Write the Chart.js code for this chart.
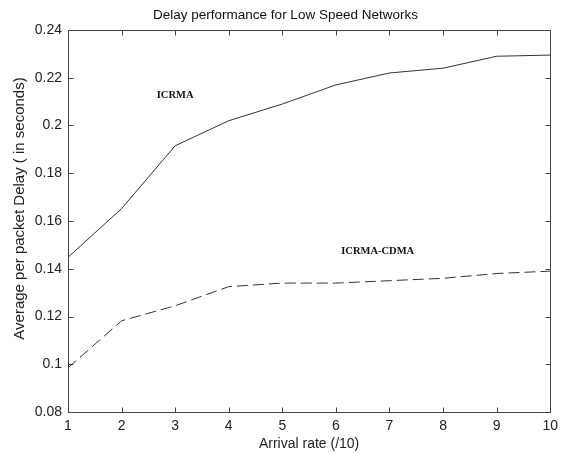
<!DOCTYPE html>
<html>
<head>
<meta charset="utf-8">
<script src="https://cdn.jsdelivr.net/npm/chart.js@4.4.1/dist/chart.umd.min.js"></script>
<style>
    html, body { margin: 0; padding: 0; background: #fff; }
    #wrap { width: 564px; height: 453px; }
</style>
</head>
<body>
<div id="wrap"><canvas id="delayChart" width="564" height="453"></canvas></div>
<script>
// Data
const arrivalRate = [1, 2, 3, 4, 5, 6, 7, 8, 9, 10];
const icrmaDelay = [0.1448, 0.1652, 0.1915, 0.202, 0.209, 0.217, 0.222, 0.224, 0.229, 0.2295];
const icrmaCdmaDelay = [0.0985, 0.1182, 0.1245, 0.1325, 0.134, 0.134, 0.135, 0.136, 0.138, 0.139];

const xTicks = [1, 2, 3, 4, 5, 6, 7, 8, 9, 10];
const yTicks = [0.08, 0.1, 0.12, 0.14, 0.16, 0.18, 0.2, 0.22, 0.24];

// In-plot text labels (data coordinates)
const seriesNames = ['ICRMA', 'ICRMA-CDMA'];
const nameX = [3.0, 6.78];
const nameY = [0.2128, 0.1474];

const axisColor = '#444';
const sansFont = '"Liberation Sans", Arial, sans-serif';

// Box around the plot with inward ticks, MATLAB style
const frameTicks = {
    id: 'frameTicks',
    afterDraw(chart) {
        const ctx = chart.ctx;
        const area = chart.chartArea;
        const xs = chart.scales.x;
        const ys = chart.scales.y;
        const len = 5;
        ctx.save();
        ctx.strokeStyle = axisColor;
        ctx.lineWidth = 1;
        const l = Math.round(area.left) + 0.5;
        const r = Math.round(area.right) + 0.5;
        const t = Math.round(area.top) + 0.5;
        const b = Math.round(area.bottom) + 0.5;
        ctx.strokeRect(l, t, r - l, b - t);
        ctx.beginPath();
        xTicks.forEach(v => {
            const px = Math.round(xs.getPixelForValue(v)) + 0.5;
            ctx.moveTo(px, b); ctx.lineTo(px, b - len);
            ctx.moveTo(px, t); ctx.lineTo(px, t + len);
        });
        yTicks.forEach(v => {
            const py = Math.round(ys.getPixelForValue(v)) + 0.5;
            ctx.moveTo(l, py); ctx.lineTo(l + len, py);
            ctx.moveTo(r, py); ctx.lineTo(r - len, py);
        });
        ctx.stroke();

        // Series names inside the plot
        ctx.fillStyle = '#111';
        ctx.font = 'bold 10.5px "Liberation Serif", "Times New Roman", serif';
        ctx.textAlign = 'center';
        ctx.textBaseline = 'middle';
        seriesNames.forEach((name, i) => {
            ctx.fillText(name, xs.getPixelForValue(nameX[i]), ys.getPixelForValue(nameY[i]));
        });
        ctx.restore();
    }
};

const ctx = document.getElementById('delayChart').getContext('2d');
new Chart(ctx, {
    type: 'line',
    data: {
        labels: arrivalRate,
        datasets: [{
            label: seriesNames[0],
            data: arrivalRate.map((x, i) => ({ x: x, y: icrmaDelay[i] })),
            borderColor: '#333',
            borderWidth: 1,
            pointRadius: 0,
            tension: 0,
            fill: false
        }, {
            label: seriesNames[1],
            data: arrivalRate.map((x, i) => ({ x: x, y: icrmaCdmaDelay[i] })),
            borderColor: '#333',
            borderWidth: 1,
            borderDash: [11, 5],
            pointRadius: 0,
            tension: 0,
            fill: false
        }]
    },
    options: {
        responsive: false,
        animation: false,
        layout: {
            // left padding pushes the figure title to the right like the original
            padding: { left: 19, right: 12, top: 0, bottom: 0 }
        },
        plugins: {
            legend: { display: false },
            tooltip: { enabled: false },
            title: {
                display: true,
                text: 'Delay performance for Low Speed Networks',
                color: '#111',
                font: { family: sansFont, size: 13.5, weight: 'normal', lineHeight: 1.2 },
                padding: { top: 7, bottom: 6.8 }
            }
        },
        scales: {
            x: {
                type: 'linear',
                min: 1,
                max: 10,
                afterBuildTicks: scale => { scale.ticks = xTicks.map(v => ({ value: v })); },
                afterFit: scale => { scale.height = 41; },
                grid: { display: false, drawTicks: false },
                border: { display: false },
                ticks: {
                    color: '#222',
                    padding: 6,
                    maxRotation: 0,
                    font: { family: sansFont, size: 14 },
                    callback: v => String(v)
                },
                title: {
                    display: true,
                    text: 'Arrival rate (/10)',
                    color: '#222',
                    font: { family: sansFont, size: 14, lineHeight: 1.2 },
                    padding: { top: 0, bottom: 0 }
                }
            },
            y: {
                type: 'linear',
                min: 0.08,
                max: 0.24,
                afterBuildTicks: scale => { scale.ticks = yTicks.map(v => ({ value: v })); },
                afterFit: scale => { scale.width = 49; },
                grid: { display: false, drawTicks: false },
                border: { display: false },
                ticks: {
                    color: '#222',
                    padding: 6,
                    font: { family: sansFont, size: 14 },
                    callback: v => String(Number(v.toFixed(2)))
                },
                title: {
                    display: true,
                    text: '      Average per packet Delay ( in seconds)',
                    color: '#222',
                    font: { family: sansFont, size: 15, lineHeight: 1.2 },
                    padding: { top: -8, bottom: 0 }
                }
            }
        }
    },
    plugins: [frameTicks]
});
</script>
</body>
</html>
